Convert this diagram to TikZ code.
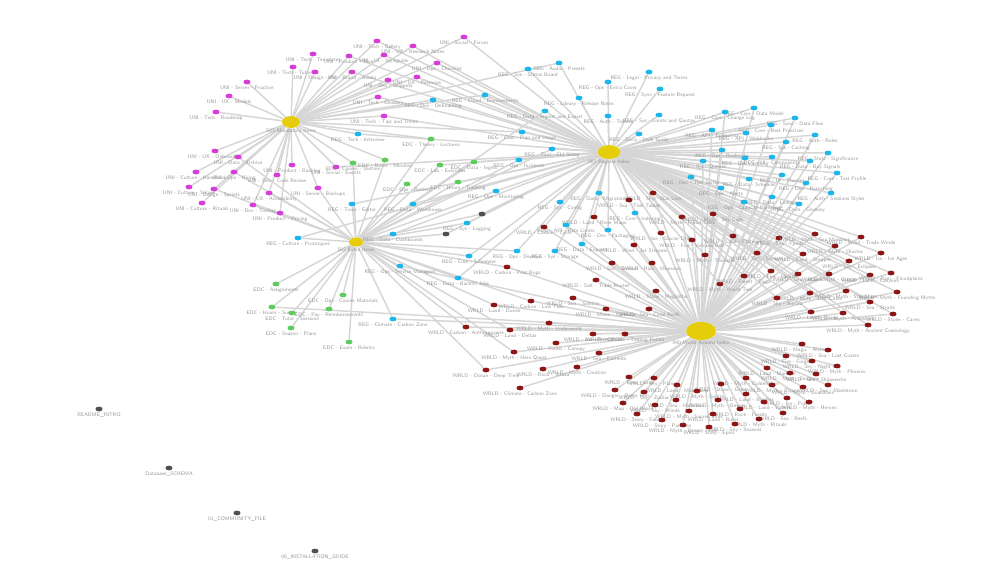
\documentclass[tikz,border=0pt]{standalone}
\usepackage{tikz}
\usetikzlibrary{shapes.geometric}
\pgfdeclarelayer{bg}
\pgfsetlayers{bg,main}
\definecolor{hubyellow}{RGB}{230,205,10}
\definecolor{unipink}{RGB}{214,60,214}
\definecolor{regblue}{RGB}{30,182,232}
\definecolor{edcgreen}{RGB}{92,204,92}
\definecolor{wrldred}{RGB}{140,22,22}
\definecolor{docgray}{RGB}{80,80,80}
\definecolor{edgegray}{RGB}{214,214,214}
\definecolor{lblgray}{RGB}{150,150,150}

\begin{document}
\begin{tikzpicture}[
    x=0.75pt, y=-0.75pt,
    dot/.style={ellipse, inner sep=0pt, minimum width=5.3pt, minimum height=3.6pt},
    hub/.style={ellipse, inner sep=0pt, fill=hubyellow},
    lbl/.style={font=\fontsize{3.9}{4.5}\selectfont\sffamily, text=lblgray, inner sep=0.5pt},
    edge/.style={draw=edgegray, line width=1.1pt}
  ]
  \useasboundingbox (0,0) rectangle (1005,565);

  % hubs
  \node[hub, minimum width=13.5pt, minimum height=9pt, label={[lbl]below:S03 Mandatory Items}] (hubA) at (291,122) {};
  \node[hub, minimum width=17pt, minimum height=10.5pt, label={[lbl]below:001 Regular Index}] (hubB) at (609,152) {};
  \node[hub, minimum width=10.5pt, minimum height=7pt, label={[lbl]below:S02 Extra Items}] (hubC) at (356,242) {};
  \node[hub, minimum width=22.5pt, minimum height=13.5pt, label={[lbl]below:090 World Axioms Index}] (hubD) at (701,331) {};

  % UNI items
  \foreach \x/\y/\hs/\lab [count=\i] in {
      377/41/{A,B}/{UNI - Tech - Gallery}, 413/46/{A,B}/{UNI - UX - Research Notes},
      464/37/{A,B}/{UNI - Social - Forum}, 313/54/{A}/{UNI - Tech - Templates},
      349/56/{A,B}/{UNI - Product - Tour}, 384/55/{A,B}/{UNI - UI - Styleguide},
      437/63/{A,B}/{UNI - Ops - Checklist}, 293/67/{A}/{UNI - Tech - Tutorials},
      315/72/{A}/{UNI - Design - Kit}, 352/72/{A,B}/{UNI - Brand - Assets},
      417/77/{A,B}/{UNI - UX - Personas}, 388/80/{A}/{UNI - Dev - Snippets},
      247/82/{A}/{UNI - Server - Practice}, 229/96/{A}/{UNI - UX - Models},
      378/97/{A,B}/{UNI - Tech - Glossary}, 216/112/{A}/{UNI - Tech - Roadmap},
      384/116/{A,B}/{UNI - Tech - Tips and Tricks}, 215/151/{A}/{UNI - UX - Onboarding},
      238/157/{A,C}/{UNI - Data - Archive}, 196/172/{A}/{UNI - Culture - Handbook},
      234/172/{A,C}/{UNI - Ops - Hiring}, 292/165/{A}/{UNI - Product - Backlog},
      277/175/{A}/{UNI - Dev - Code Review}, 336/167/{A,B}/{UNI - Social - Events},
      189/187/{A}/{UNI - Culture - Values}, 214/189/{A,C}/{UNI - Design - Sprints},
      318/188/{A,C}/{UNI - Server - Backups}, 269/193/{A,C}/{UNI - UX - Accessibility},
      202/203/{A}/{UNI - Culture - Rituals}, 253/205/{A,C}/{UNI - Dev - Tooling},
      280/213/{A,C}/{UNI - Product - Pricing}} {
    \node[dot, fill=unipink, label={[lbl]below:\lab}] (uni\i) at (\x,\y) {};
    \begin{pgfonlayer}{bg}
      \foreach \hb in \hs {\draw[edge] (uni\i) -- (hub\hb);}
    \end{pgfonlayer}
  }

  % REG items
  \foreach \x/\y/\hs/\lab [count=\i] in {
      528/69/{B}/{REG - Sys - Status Board}, 559/63/{B,A}/{REG - Audio - Presets},
      649/72/{B}/{REG - Legal - Privacy and Terms}, 608/82/{B}/{REG - Ops - Extra Cover},
      660/89/{B}/{REG - Sync - Feature Request}, 485/95/{B,A}/{REG - Cloud - Environments},
      579/98/{B}/{REG - Library - Release Notes}, 545/111/{B,C}/{REG - Data - Import and Export},
      608/116/{B}/{REG - Auth - Tokens}, 659/115/{B}/{REG - Sys - Limits and Quotas},
      639/134/{B}/{REG - Docs - Style Guide}, 522/132/{B,A}/{REG - Cost - Plan and Usage},
      552/149/{B,C}/{REG - Tool - CLI Setup}, 519/160/{B,C}/{REG - Ops - Incidents},
      691/177/{B,D}/{REG - Dev - Test Suites}, 599/193/{B,D}/{REG - Data - Migrations},
      496/191/{B,C}/{REG - Ops - Monitoring}, 754/108/{B,D}/{REG - Core - Data Model},
      725/112/{B,D}/{REG - Core - Change Log}, 795/118/{B,D}/{REG - Sync - Data Flow},
      771/125/{B,D}/{REG - Core - Best Practices}, 712/130/{B,D}/{REG - API - Endpoints},
      746/133/{B}/{REG - API - Webhooks}, 815/135/{B,D}/{REG - Auth - Roles},
      786/142/{B,D}/{REG - Sys - Caching}, 722/150/{B,D}/{REG - Ops - Runbooks},
      828/153/{B,D}/{REG - Stats - Significance}, 772/157/{B}/{REG - UI - Components},
      745/158/{B,D}/{REG - Dev - Linting}, 810/161/{B,D}/{REG - Data - Buy Signals},
      703/161/{B,D}/{REG - Sys - Queues}, 837/173/{B,D}/{REG - Core - Test Profile},
      782/175/{B,D}/{REG - UI - Themes}, 749/179/{B}/{REG - Data - Schemas},
      806/183/{B,D}/{REG - Dev - Branching}, 721/188/{B,D}/{REG - Ops - Alerts},
      831/193/{B,D}/{REG - Auth - Sessions Styles}, 772/197/{B,D}/{REG - Data - Lineage},
      744/202/{B,D}/{REG - Ops - Capacity Planning}, 799/204/{B,D}/{REG - Docs - Glossary},
      433/100/{B,A}/{REG - Dev - Onboarding}, 358/134/{B,A}/{REG - Tech - Interview},
      352/204/{B,C}/{REG - Tools - Editor}, 413/204/{B,C}/{REG - Data - Warehouse},
      298/238/{C,B}/{REG - Culture - Prototypes}, 393/234/{C,B}/{REG - Data - Dashboards},
      467/223/{B,C}/{REG - Sys - Logging}, 469/256/{B,C}/{REG - Core - Scheduler},
      400/266/{C,D}/{REG - Ops - Service Managers}, 458/278/{C,B}/{REG - Data - Backfill Jobs},
      393/319/{C,D}/{REG - Climate - Carbon Zone}, 560/202/{B}/{REG - Sys - Config},
      635/213/{B,D}/{REG - Core - Indexing}, 566/225/{B,D}/{REG - API - Rate Limits},
      608/230/{B}/{REG - Dev - Packaging}, 582/244/{B,D}/{REG - Data - Exports},
      517/251/{B,C}/{REG - Ops - Deploys}, 555/251/{B,D}/{REG - Sys - Storage}} {
    \node[dot, fill=regblue, label={[lbl]below:\lab}] (reg\i) at (\x,\y) {};
    \begin{pgfonlayer}{bg}
      \foreach \hb in \hs {\draw[edge] (reg\i) -- (hub\hb);}
    \end{pgfonlayer}
  }

  % EDC items
  \foreach \x/\y/\hs/\lab [count=\i] in {
      474/162/{C,B}/{EDC - Data - Ingest}, 458/182/{C,B}/{EDC - Hours - Tracking},
      407/184/{C}/{EDC - Ops - Rosters}, 431/139/{C,A}/{EDC - Theory - Lectures},
      385/160/{C,A}/{EDC - Notes - Minutes}, 353/163/{C,A}/{EDC - Course - Outline},
      440/165/{C,B}/{EDC - Lab - Exercises}, 276/284/{C}/{EDC - Assignments},
      343/295/{C}/{EDC - Ops - Course Materials}, 272/307/{C,D}/{EDC - Hours - Survey},
      292/313/{C}/{EDC - Tutor - Sessions}, 329/309/{C}/{EDC - Pay - Reimbursements},
      291/328/{C}/{EDC - Season - Plans}, 349/342/{C}/{EDC - Exam - Rubrics}} {
    \node[dot, fill=edcgreen, label={[lbl]below:\lab}] (edc\i) at (\x,\y) {};
    \begin{pgfonlayer}{bg}
      \foreach \hb in \hs {\draw[edge] (edc\i) -- (hub\hb);}
    \end{pgfonlayer}
  }

  % WRLD items
  \foreach \x/\y/\hs/\lab [count=\i] in {
      653/193/{D,B}/{WRLD - Sky - Star Lore}, 629/200/{D,B}/{WRLD - Sea - Tide Tables},
      594/217/{D,B}/{WRLD - Land - River Maps}, 682/217/{D,B}/{WRLD - Myth - Flood Tales},
      713/214/{D,B}/{WRLD - Myth - Sky Gods}, 544/227/{D,B}/{WRLD - Carbon - Cycle},
      661/233/{D,B}/{WRLD - Ice - Glacier Drift}, 692/240/{D,B}/{WRLD - Fire - Volcano Belt},
      634/245/{D}/{WRLD - Wind - Jet Streams}, 612/263/{D}/{WRLD - Soil - Erosion},
      652/263/{D}/{WRLD - Rain - Monsoon}, 705/255/{D,B}/{WRLD - Myth - Trickster},
      507/267/{D,C}/{WRLD - Carbon - Peat Bogs}, 596/280/{D}/{WRLD - Salt - Trade Routes},
      656/291/{D}/{WRLD - Stone - Megaliths}, 720/284/{D,B}/{WRLD - Myth - World Tree},
      573/298/{D}/{WRLD - Sun - Solstice}, 531/301/{D,C}/{WRLD - Carbon - Low Tide},
      494/305/{D,C}/{WRLD - Land - Dunes}, 606/309/{D}/{WRLD - Moon - Calendar},
      649/309/{D}/{WRLD - Sea - Coral Reefs}, 549/323/{D}/{WRLD - Myth - Underworld},
      510/330/{D,C}/{WRLD - Land - Deltas}, 593/334/{D}/{WRLD - Ice - Permafrost},
      625/334/{D}/{WRLD - Climate - Tipping Points}, 556/343/{D}/{WRLD - Forest - Canopy},
      514/352/{D,C}/{WRLD - Myth - Hero Quest}, 599/353/{D}/{WRLD - Sea - Currents},
      577/367/{D}/{WRLD - Myth - Creation}, 543/369/{D}/{WRLD - Rock - Strata},
      466/327/{D,C}/{WRLD - Carbon - Anthropocene}, 486/370/{D,C}/{WRLD - Ocean - Deep Time},
      520/388/{D}/{WRLD - Climate - Carbon Zone}, 733/236/{D,B}/{WRLD - Land - Plateaus},
      779/238/{D,B}/{WRLD - Sea - Fjords}, 815/234/{D,B}/{WRLD - Myth - Sea Monsters},
      861/237/{D,B}/{WRLD - Wind - Trade Winds}, 757/253/{D,B}/{WRLD - Sky - Comets},
      803/254/{D,B}/{WRLD - Land - Steppes}, 835/246/{D,B}/{WRLD - Myth - Oracles},
      881/253/{D,B}/{WRLD - Ice - Ice Ages}, 849/261/{D,B}/{WRLD - Sky - Eclipses},
      771/271/{D,B}/{WRLD - Fire - Hearth}, 798/274/{D,B}/{WRLD - Sea - Islands},
      829/274/{D,B}/{WRLD - Myth - Giants}, 870/275/{D,B}/{WRLD - Land - Canyons},
      891/273/{D,B}/{WRLD - Rain - Floodplains}, 744/276/{D,B}/{WRLD - Forest - Taiga},
      810/293/{D,B}/{WRLD - Myth - Lost Cities}, 846/291/{D,B}/{WRLD - Myth - Star Maps},
      897/292/{D,B}/{WRLD - Myth - Founding Myths}, 777/298/{D,B}/{WRLD - Sky - Aurora},
      870/302/{D,B}/{WRLD - Sea - Straits}, 811/312/{D,B}/{WRLD - Land - Oases},
      843/313/{D,B}/{WRLD - Myth - Ancestors}, 893/314/{D,B}/{WRLD - Stone - Caves},
      868/325/{D,B}/{WRLD - Myth - Ancient Cosmology}, 802/344/{D}/{WRLD - Magic - Alchemy},
      828/350/{D}/{WRLD - Sea - Lost Coasts}, 786/356/{D}/{WRLD - Fire - Forges},
      812/361/{D}/{WRLD - Sky - Night Sky}, 837/366/{D}/{WRLD - Myth - Phoenix},
      767/368/{D}/{WRLD - Land - Marshes}, 790/373/{D}/{WRLD - Myth - Dragons},
      816/374/{D}/{WRLD - Sea - Shipwrecks}, 629/377/{D}/{WRLD - Time - Eras},
      654/378/{D}/{WRLD - Sky - Planets}, 746/378/{D}/{WRLD - Myth - Golden Age},
      677/385/{D}/{WRLD - Land - Mountains}, 721/384/{D}/{WRLD - Stone - Gems},
      772/385/{D}/{WRLD - Myth - Titans}, 828/385/{D}/{WRLD - Sea - Maelstrom},
      615/390/{D}/{WRLD - Danger - Outer Rim}, 644/392/{D}/{WRLD - Sky - Zodiac},
      697/391/{D}/{WRLD - Myth - Spirits}, 746/394/{D}/{WRLD - Land - Borders},
      803/387/{D}/{WRLD - Myth - Guardians}, 787/398/{D}/{WRLD - Ice - Poles},
      623/403/{D}/{WRLD - Map - Old World}, 676/400/{D}/{WRLD - Sea - Harbours},
      718/400/{D}/{WRLD - Myth - Omens}, 764/402/{D}/{WRLD - Land - Valleys},
      809/402/{D}/{WRLD - Myth - Heroes}, 655/405/{D}/{WRLD - Sky - Winds},
      740/409/{D}/{WRLD - Rock - Fossils}, 689/411/{D}/{WRLD - Myth - Sacred Sites},
      783/413/{D}/{WRLD - Sea - Reefs}, 637/414/{D}/{WRLD - Story - Fables},
      713/414/{D}/{WRLD - Land - Ruins}, 759/419/{D}/{WRLD - Myth - Rituals},
      662/420/{D}/{WRLD - Story - Parables}, 735/424/{D}/{WRLD - Sky - Seasons},
      683/425/{D}/{WRLD - Myth - Dream Time}, 709/427/{D}/{WRLD - Story - Epics}} {
    \node[dot, fill=wrldred, label={[lbl]below:\lab}] (wrld\i) at (\x,\y) {};
    \begin{pgfonlayer}{bg}
      \foreach \hb in \hs {\draw[edge] (wrld\i) -- (hub\hb);}
    \end{pgfonlayer}
  }

  % loose documents
  \node[dot, fill=docgray] (doc1) at (482,214) {};
  \node[dot, fill=docgray] (doc2) at (446,234) {};
  \begin{pgfonlayer}{bg}
    \draw[edge] (doc1) -- (hubB);
    \draw[edge] (doc1) -- (hubC);
    \draw[edge] (doc2) -- (hubB);
    \draw[edge] (doc2) -- (hubC);
  \end{pgfonlayer}
  \node[dot, fill=docgray, label={[lbl]below:README\_INTRO}] (doc3) at (99,409) {};
  \node[dot, fill=docgray, label={[lbl]below:Database\_SCHEMA}] (doc4) at (169,468) {};
  \node[dot, fill=docgray, label={[lbl]below:01\_COMMUNITY\_FILE}] (doc5) at (237,513) {};
  \node[dot, fill=docgray, label={[lbl]below:06\_INSTALLATION\_GUIDE}] (doc6) at (315,551) {};
\end{tikzpicture}
\end{document}
